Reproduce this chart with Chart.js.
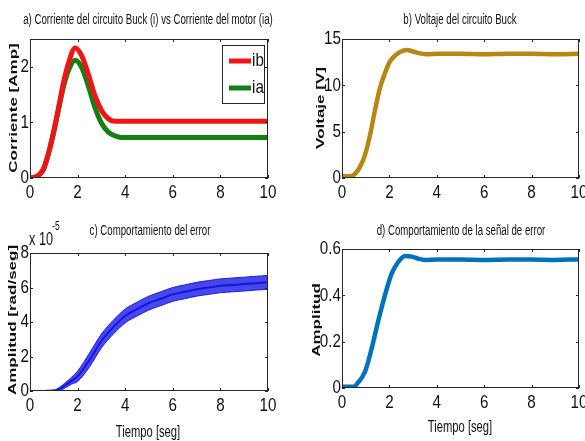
<!DOCTYPE html>
<html lang="es">
<head>
<meta charset="UTF-8">
<script src="https://cdn.jsdelivr.net/npm/chart.js"></script>
<title>Circuito Buck</title>
<style>
  body { margin: 0; background: #fff; overflow: hidden; }
  canvas { position: absolute; }
</style>
</head>
<body>
<canvas id="chartA" width="292" height="220" style="left:0;top:0"></canvas>
<canvas id="chartB" width="300" height="220" style="left:292px;top:0"></canvas>
<canvas id="chartC" width="292" height="221" style="left:0;top:220px"></canvas>
<canvas id="chartD" width="300" height="221" style="left:292px;top:220px"></canvas>
<script>
// a) corriente Buck (ib) vs corriente motor (ia)
const tA = [0, 0.3, 0.55, 0.76, 0.97, 1.18, 1.39, 1.6, 1.9, 2.16, 2.44, 2.72, 3.0, 3.28, 3.56, 3.84, 4.2, 10];
const ib = [0, 0.03, 0.15, 0.42, 0.79, 1.22, 1.68, 2.04, 2.34, 2.21, 1.88, 1.49, 1.22, 1.07, 1.02, 1.02, 1.02, 1.02];
const ia = [0, 0.03, 0.14, 0.41, 0.77, 1.19, 1.61, 1.92, 2.12, 2.0, 1.67, 1.28, 0.99, 0.83, 0.76, 0.73, 0.73, 0.73];

// b) voltaje del circuito Buck
const tB = [0, 0.35, 0.55, 0.76, 0.97, 1.18, 1.39, 1.6, 1.81, 2.03, 2.24, 2.45, 2.73, 3.0, 3.3, 3.6, 4, 5, 6, 7, 8, 9, 10];
const voltaje = [0.2, 0.2, 0.45, 1.2, 2.5, 4.6, 7.3, 9.7, 11.3, 12.6, 13.2, 13.6, 13.8, 13.65, 13.45, 13.35, 13.4, 13.4, 13.35, 13.4, 13.4, 13.35, 13.4];

// c) comportamiento del error (x 10^-5), banda de ruido
const tC = [0, 1.0, 1.25, 1.5, 1.75, 2.0, 2.5, 3.0, 3.5, 4.0, 4.5, 5.0, 5.5, 6.0, 6.5, 7.0, 7.5, 8.0, 8.5, 9.0, 9.5, 10];
const errMid = [0, 0.02, 0.12, 0.35, 0.6, 0.85, 1.8, 2.9, 3.7, 4.35, 4.75, 5.1, 5.35, 5.6, 5.75, 5.9, 6.0, 6.1, 6.15, 6.2, 6.25, 6.3];
const errLow = [0, 0, 0.02, 0.2, 0.4, 0.55, 1.4, 2.5, 3.3, 3.95, 4.35, 4.7, 4.95, 5.2, 5.35, 5.5, 5.6, 5.7, 5.75, 5.8, 5.85, 5.9];
const errHigh = [0.02, 0.06, 0.22, 0.5, 0.8, 1.15, 2.2, 3.3, 4.1, 4.75, 5.15, 5.5, 5.75, 6.0, 6.15, 6.3, 6.4, 6.5, 6.55, 6.6, 6.65, 6.7];

// d) señal de error
const tD = [0, 0.5, 0.65, 0.97, 1.25, 1.53, 1.81, 2.1, 2.38, 2.66, 2.94, 3.22, 3.5, 4, 5, 6, 7, 8, 9, 10];
const senal = [0.005, 0.005, 0.02, 0.07, 0.17, 0.29, 0.4, 0.495, 0.545, 0.57, 0.567, 0.558, 0.553, 0.555, 0.555, 0.553, 0.555, 0.555, 0.553, 0.555];

const xTicks = [0, 2, 4, 6, 8, 10];

const SANS = "'Liberation Sans', Arial, sans-serif";

function pairs(t, v) {
  return t.map((x, i) => ({ x: x, y: v[i] }));
}

// texto comprimido en horizontal, como en la figura original
function squashText(ctx, text, x, y, font, squeeze, vertical, align) {
  ctx.save();
  ctx.translate(x, y);
  ctx.scale(squeeze, 1);
  if (vertical) ctx.rotate(-Math.PI / 2);
  ctx.font = font;
  ctx.fillStyle = '#111';
  ctx.textAlign = align || 'center';
  ctx.textBaseline = 'middle';
  ctx.fillText(text, 0, 0);
  ctx.restore();
}

// caja, marcas hacia dentro y textos al estilo matlab
const matlabLook = {
  id: 'matlab',
  afterDraw(chart, args, o) {
    const ctx = chart.ctx;
    const a = chart.chartArea;
    const sx = chart.scales.x, sy = chart.scales.y;
    ctx.save();
    ctx.strokeStyle = '#262626';
    ctx.lineWidth = 1;
    ctx.strokeRect(a.left + 0.5, a.top + 0.5, a.right - a.left - 1, a.bottom - a.top - 1);
    ctx.beginPath();
    sx.ticks.forEach(t => {
      const p = Math.round(sx.getPixelForValue(t.value)) + 0.5;
      ctx.moveTo(p, a.bottom); ctx.lineTo(p, a.bottom - 3);
      ctx.moveTo(p, a.top); ctx.lineTo(p, a.top + 3);
    });
    sy.ticks.forEach(t => {
      const p = Math.round(sy.getPixelForValue(t.value)) + 0.5;
      ctx.moveTo(a.left, p); ctx.lineTo(a.left + 3, p);
      ctx.moveTo(a.right, p); ctx.lineTo(a.right - 3, p);
    });
    ctx.stroke();

    // etiquetas de las marcas, tomadas de las escalas
    const tickFont = '19px ' + SANS;
    sx.ticks.forEach(t => {
      squashText(ctx, t.label, sx.getPixelForValue(t.value), a.bottom + 15, tickFont, 0.8, false);
    });
    sy.ticks.forEach(t => {
      squashText(ctx, t.label, a.left - 1, sy.getPixelForValue(t.value), tickFont, 0.8, false, 'right');
    });

    squashText(ctx, o.title, o.titleAt[0], o.titleAt[1], '14px ' + SANS, 0.69, false);
    squashText(ctx, o.yLabel, o.yLabelAt[0], o.yLabelAt[1], 'bold 17px ' + SANS, 0.68, true);
    if (o.xLabel) squashText(ctx, o.xLabel, o.xLabelAt[0], o.xLabelAt[1], '17px ' + SANS, 0.66, false);
    if (o.exponent) {
      squashText(ctx, 'x 10', 41, 20, '18px ' + SANS, 0.7, false);
      squashText(ctx, o.exponent, 56, 7, '12px ' + SANS, 0.7, false);
    }
    if (o.legendBox) {
      const [lx, ly, lw, lh] = o.legendBox;
      ctx.fillStyle = '#fff';
      ctx.fillRect(lx, ly, lw, lh);
      ctx.strokeStyle = '#262626';
      ctx.lineWidth = 1;
      ctx.strokeRect(lx + 0.5, ly + 0.5, lw, lh);
      chart.data.datasets.forEach((ds, i) => {
        const yy = ly + 16 + i * 27;
        ctx.strokeStyle = ds.borderColor;
        ctx.lineWidth = 5;
        ctx.beginPath();
        ctx.moveTo(lx + 7, yy); ctx.lineTo(lx + 29, yy);
        ctx.stroke();
        squashText(ctx, ds.label, lx + 30, yy, '19px ' + SANS, 0.8, false, 'left');
      });
    }
    ctx.restore();
  }
};

function makePanel(id, box, datasets, yOpts, deco) {
  const canvas = document.getElementById(id);
  const W = canvas.width, H = canvas.height;
  return new Chart(canvas, {
    type: 'line',
    data: { datasets: datasets },
    options: {
      responsive: false,
      animation: false,
      layout: { padding: { top: box.top, right: W - box.right, left: 0, bottom: 0 } },
      plugins: { legend: { display: false }, tooltip: { enabled: false }, matlab: deco },
      elements: { point: { radius: 0 }, line: { cubicInterpolationMode: 'monotone' } },
      scales: {
        x: {
          type: 'linear', min: 0, max: 10,
          afterBuildTicks: s => { s.ticks = xTicks.map(v => ({ value: v })); },
          ticks: { display: false },
          grid: { display: false }, border: { display: false },
          afterFit: s => { s.height = H - box.bottom; }
        },
        y: {
          min: yOpts.min, max: yOpts.max,
          ticks: Object.assign({ display: false }, yOpts.ticks),
          grid: { display: false }, border: { display: false },
          afterFit: s => { s.width = box.left; }
        }
      }
    },
    plugins: [matlabLook]
  });
}

makePanel('chartA', { left: 30, top: 39, right: 268, bottom: 178 }, [
  { label: 'ib', data: pairs(tA, ib), borderColor: 'rgb(240,20,20)', borderWidth: 5 },
  { label: 'ia', data: pairs(tA, ia), borderColor: 'rgb(20,128,20)', borderWidth: 5 }
], { min: 0, max: 2.5, ticks: { stepSize: 1, includeBounds: false } }, {
  title: 'a) Corriente del circuito Buck (i) vs Corriente del motor (ia)', titleAt: [148, 20],
  yLabel: 'Corriente [Amp]', yLabelAt: [14, 108],
  legendBox: [222, 45, 42, 58]
});

makePanel('chartB', { left: 50, top: 39, right: 287, bottom: 178 }, [
  { label: 'V', data: pairs(tB, voltaje), borderColor: 'rgb(184,134,18)', borderWidth: 4.5 }
], { min: 0, max: 15, ticks: { stepSize: 5 } }, {
  title: 'b) Voltaje del circuito Buck', titleAt: [168, 20],
  yLabel: 'Voltaje [V]', yLabelAt: [29, 108]
});

makePanel('chartC', { left: 30, top: 33, right: 268, bottom: 171 }, [
  { label: 'low', data: pairs(tC, errLow), borderColor: 'rgb(25,25,235)', borderWidth: 1, fill: false },
  { label: 'high', data: pairs(tC, errHigh), borderColor: 'rgb(25,25,235)', borderWidth: 1, fill: '-1', backgroundColor: 'rgba(25,25,230,0.8)' },
  { label: 'e', data: pairs(tC, errMid), borderColor: 'rgb(0,0,215)', borderWidth: 2 }
], { min: 0, max: 8, ticks: { stepSize: 2 } }, {
  title: 'c) Comportamiento del error', titleAt: [150, 11],
  yLabel: 'Amplitud [rad/seg]', yLabelAt: [13, 100],
  xLabel: 'Tiempo [seg]', xLabelAt: [148, 212],
  exponent: '-5'
});

makePanel('chartD', { left: 50, top: 29, right: 287, bottom: 168 }, [
  { label: 'e', data: pairs(tD, senal), borderColor: 'rgb(0,114,189)', borderWidth: 4.5 }
], { min: 0, max: 0.6, ticks: { stepSize: 0.2 } }, {
  title: 'd) Comportamiento de la señal de error', titleAt: [169, 11],
  yLabel: 'Amplitud', yLabelAt: [25, 100],
  xLabel: 'Tiempo [seg]', xLabelAt: [168, 207]
});
</script>
</body>
</html>
